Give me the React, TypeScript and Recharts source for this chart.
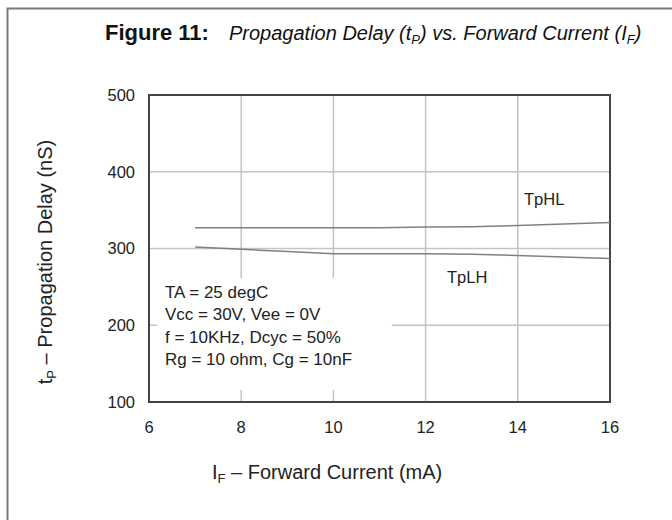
import React from "react";
import { LineChart, Line, XAxis, YAxis, CartesianGrid, ReferenceArea } from "recharts";

const currents = [7, 8, 9, 10, 11, 12, 13, 14, 15, 16];
const tpHL = [327, 327, 327, 327, 327, 328, 328.5, 330, 332, 334];
const tpLH = [302, 299, 296, 293, 293, 293, 292.5, 291, 289, 287];
const xTicks = [6, 8, 10, 12, 14, 16];
const yTicks = [100, 200, 300, 400, 500];
const notes = ["TA = 25 degC", "Vcc = 30V, Vee = 0V", "f = 10KHz, Dcyc = 50%", "Rg = 10 ohm, Cg = 10nF"];

const data = currents.map((c, i) => ({ x: c, hl: tpHL[i], lh: tpLH[i] }));

const FONT = "'Liberation Sans', Arial, Helvetica, sans-serif";
const TXT = "#222";

export default function App() {
  return (
    <div style={{ position: "absolute", left: 0, top: 0, width: 672, height: 520, background: "#fff", fontFamily: FONT }}>
      <LineChart
        width={672}
        height={520}
        data={data}
        margin={{ top: 95, right: 62, bottom: 88, left: 89 }}
      >
        <CartesianGrid stroke="#c4c4c4" strokeWidth={1.5} />
        <XAxis
          dataKey="x"
          type="number"
          domain={[6, 16]}
          ticks={xTicks}
          height={30}
          tickSize={0}
          tickMargin={19}
          axisLine={false}
          tick={{ fill: TXT, fontSize: 16.5, fontFamily: FONT }}
        />
        <YAxis
          type="number"
          domain={[100, 500]}
          ticks={yTicks}
          width={60}
          tickSize={0}
          tickMargin={14}
          axisLine={false}
          tick={{ fill: TXT, fontSize: 16.5, fontFamily: FONT }}
        />
        <ReferenceArea x1={6.17} x2={11.27} y1={115.6} y2={261.6} fill="#ffffff" fillOpacity={1} stroke="none" />
        <ReferenceArea x1={6} x2={16} y1={100} y2={500} fill="none" stroke="#444" strokeWidth={2} />
        <Line dataKey="hl" stroke="#808080" strokeWidth={1.5} dot={false} isAnimationActive={false} />
        <Line dataKey="lh" stroke="#808080" strokeWidth={1.5} dot={false} isAnimationActive={false} />
      </LineChart>
      <svg
        width={672}
        height={520}
        style={{ position: "absolute", left: 0, top: 0, pointerEvents: "none" }}
        fontFamily={FONT}
      >
        <path d="M7.5,520 L7.5,8.5 L672,8.5" fill="none" stroke="#7a7a7a" strokeWidth={2} />
        <text x={105} y={40} fontSize={22} fontWeight="bold" fill="#111">Figure 11:</text>
        <text x={229} y={40} fontSize={20} fontStyle="italic" fill="#111">
          Propagation Delay (t<tspan fontSize={13} dy={4}>P</tspan>
          <tspan dy={-4}>) vs. Forward Current (I</tspan>
          <tspan fontSize={13} dy={4}>F</tspan>
          <tspan dy={-4}>)</tspan>
        </text>
        {notes.map((n, i) => (
          <text key={n} x={165} y={298 + i * 22.3} fontSize={17} fill={TXT}>{n}</text>
        ))}
        <text x={524} y={205} fontSize={16.5} fill={TXT}>TpHL</text>
        <text x={447} y={283} fontSize={16.5} fill={TXT}>TpLH</text>
        <text x={212} y={479} fontSize={20} fill={TXT}>
          I<tspan fontSize={13} dy={4}>F</tspan>
          <tspan dy={-4}> – Forward Current (mA)</tspan>
        </text>
        <text transform="translate(52,262) rotate(-90)" textAnchor="middle" fontSize={20} fill={TXT}>
          t<tspan fontSize={13} dy={4}>P</tspan>
          <tspan dy={-4}> – Propagation Delay (nS)</tspan>
        </text>
      </svg>
    </div>
  );
}
